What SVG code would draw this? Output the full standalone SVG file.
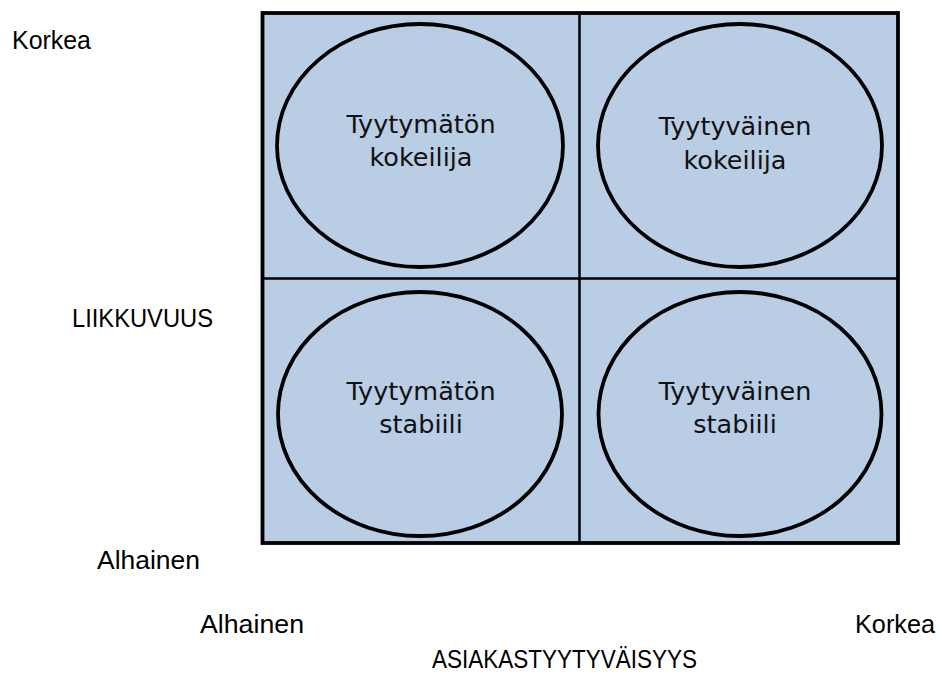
<svg xmlns="http://www.w3.org/2000/svg" width="939" height="675" viewBox="0 0 939 675">
<style>
.lbl{font-family:"Liberation Sans",Arial,sans-serif;font-size:26px;fill:#000}
.in{font-family:"DejaVu Sans",Verdana,sans-serif;font-size:25.5px;fill:#111;text-anchor:middle}
.ell{fill:#B9CDE5;stroke:#000;stroke-width:3.8}
</style>
<rect width="939" height="675" fill="#fff"/>
<g id="grid">
<rect x="262.5" y="13" width="635.5" height="530" fill="#B9CDE5" stroke="#000" stroke-width="3.8"/>
<line x1="579.5" y1="13" x2="579.5" y2="543" stroke="#000" stroke-width="2.5"/>
<line x1="262.5" y1="278.5" x2="898" y2="278.5" stroke="#000" stroke-width="2.5"/>
</g>
<g id="n1"><ellipse class="ell" cx="420" cy="145.5" rx="143" ry="121.5"/>
<text class="in" x="421" y="133">Tyytymätön</text><text class="in" x="421" y="166">kokeilija</text></g>
<g id="n2"><ellipse class="ell" cx="740" cy="145.5" rx="142" ry="121.5"/>
<text class="in" x="735" y="135">Tyytyväinen</text><text class="in" x="735" y="169">kokeilija</text></g>
<g id="n3"><ellipse class="ell" cx="420" cy="414" rx="142" ry="122"/>
<text class="in" x="421" y="400">Tyytymätön</text><text class="in" x="421" y="433">stabiili</text></g>
<g id="n4"><ellipse class="ell" cx="740" cy="414" rx="141.5" ry="122"/>
<text class="in" x="735" y="400">Tyytyväinen</text><text class="in" x="735" y="433">stabiili</text></g>
<g id="connectors"></g>
<g id="labels">
<text class="lbl" x="12" y="49" textLength="79" lengthAdjust="spacingAndGlyphs">Korkea</text>
<text class="lbl" x="72" y="327" textLength="141" lengthAdjust="spacingAndGlyphs">LIIKKUVUUS</text>
<text class="lbl" x="97" y="569" textLength="103" lengthAdjust="spacingAndGlyphs">Alhainen</text>
<text class="lbl" x="200" y="633" textLength="104" lengthAdjust="spacingAndGlyphs">Alhainen</text>
<text class="lbl" x="855" y="633" textLength="80" lengthAdjust="spacingAndGlyphs">Korkea</text>
<text class="lbl" x="432" y="668" textLength="265" lengthAdjust="spacingAndGlyphs">ASIAKASTYYTYVÄISYYS</text>
</g>
</svg>
